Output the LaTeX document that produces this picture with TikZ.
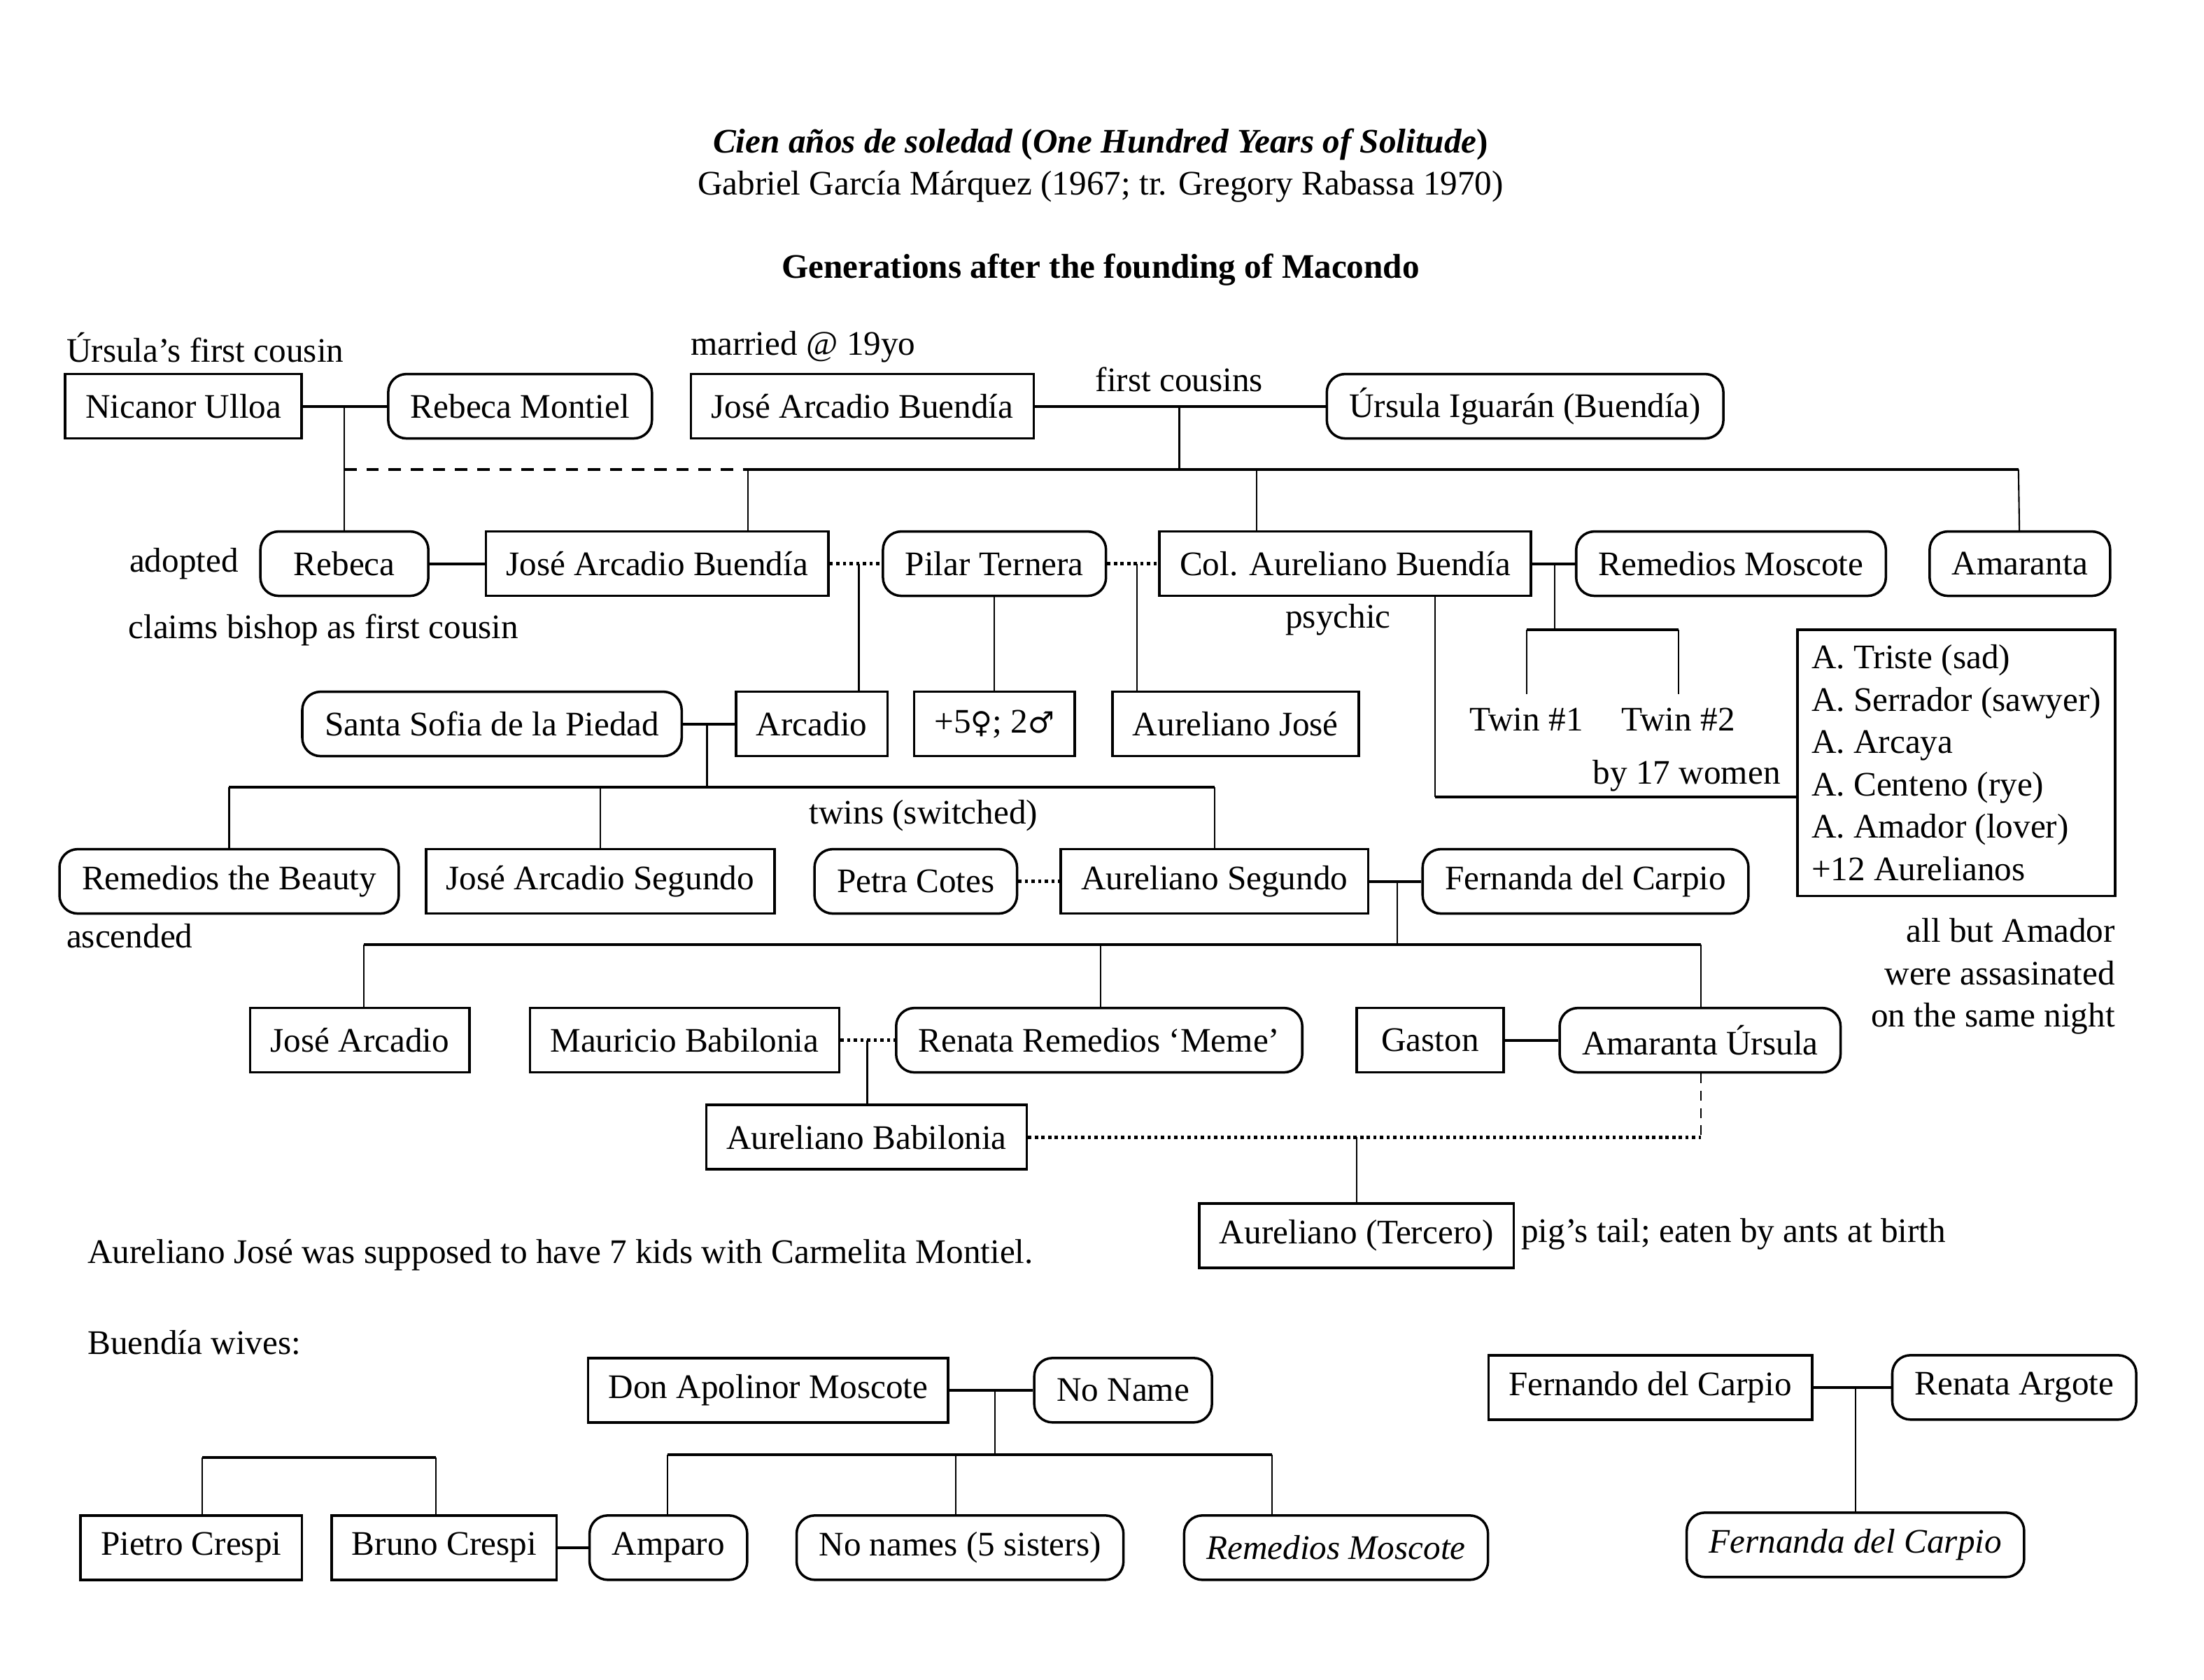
\documentclass[tikz,border=0pt]{standalone}
\usepackage{fontspec}
\setmainfont{Liberation Serif}
\newfontfamily\symf{DejaVu Sans}
\usetikzlibrary{calc}
\tikzset{
    person/.style = {rectangle,
                    draw=black,
                    text=black,
                    line width=1pt,
                    inner xsep=2.9mm,
                    minimum height=9.2mm},
    spouse/.style = {rectangle,
                    rounded corners=2.6mm,
                    draw=black,
                    text=black,
                    line width=1pt,
                    inner xsep=3.2mm,
                    minimum height=9.2mm},
    note/.style =   {inner sep=0pt,
                    text=black},
    -,
    wed/.style =    {line width=1.1pt},
    desc/.style =   {line width=0.6pt},
    affair/.style = {line width=1.3pt,
                    dash pattern=on 1.3pt off 1.4pt},
    adopt/.style =  {line width=1.1pt,
                    dash pattern=on 5pt off 4pt}}

\begin{document}
\begin{tikzpicture}[x=0.2009mm,y=-0.2009mm,font=\fontsize{14}{17}\selectfont]
    \useasboundingbox (0,0) rectangle (1568,1195);

    % title
    \node[note] (title)  at (783,103) {\bfseries\itshape Cien años de soledad \textup{(}One Hundred Years of Solitude\textup{)}};
    \node[note] (author) at (783,133) {Gabriel García Márquez (1967; tr. Gregory Rabassa 1970)};
    \node[note] (head)   at (783,192) {\bfseries Generations after the founding of Macondo};

    % first generation
    \node[person] (nicanor)  at (130.5,289) {Nicanor Ulloa};
    \node[spouse] (rebecaM)  at (370,289)   {Rebeca Montiel};
    \node[person] (jab)      at (613.5,289) {José Arcadio Buendía};
    \node[spouse] (ursula)   at (1085,289)  {Úrsula Iguarán (Buendía)};
    \node[note, anchor=west] (cousinU) at (47,247)  {Úrsula’s first cousin};
    \node[note, anchor=west] (married) at (491,247) {married @ 19yo};
    \node[note] (cousins) at (839,270) {first cousins};

    % second generation
    \node[spouse, minimum width=24mm] (rebeca) at (245,401) {Rebeca};
    \node[person] (jab2)      at (467.5,401)  {José Arcadio Buendía};
    \node[spouse] (pilar)     at (707.5,401)  {Pilar Ternera};
    \node[person] (colAB)     at (957,401)    {Col. Aureliano Buendía};
    \node[spouse] (remediosM) at (1231.5,401) {Remedios Moscote};
    \node[spouse] (amaranta)  at (1437,401)   {Amaranta};
    \node[note, anchor=east] (adopted) at (170,401) {adopted};
    \node[note, anchor=west] (bishop)  at (91,448)  {claims bishop as first cousin};
    \node[note] (psychic) at (952,441) {psychic};

    % third generation
    \node[spouse] (santa)   at (350,515)   {Santa Sofia de la Piedad};
    \node[person] (arcadio) at (577.5,515) {Arcadio};
    \node[person] (plus)    at (707.5,515) {+5{\symf\fontsize{12}{14}\selectfont ♀}; 2{\symf\fontsize{12}{14}\selectfont ♂}};
    \node[person] (aurJose) at (879,515)   {Aureliano José};
    \node[note] (twin1) at (1086,512) {Twin \#1};
    \node[note] (twin2) at (1194,512) {Twin \#2};
    \node[note] (by17)  at (1200,552) {by 17 women};
    \node[person, anchor=north west, align=left, inner xsep=2mm, inner ysep=2.2mm,
          font=\fontsize{14}{17.2}\selectfont] (aurelianos) at (1278,447)
        {A. Triste (sad)\\A. Serrador (sawyer)\\A. Arcaya\\A. Centeno (rye)\\A. Amador (lover)\\+12 Aurelianos};
    \node[note, align=right, anchor=north east, font=\fontsize{14}{17.2}\selectfont] (assassin) at (1505,653)
        {all but Amador\\were assasinated\\on the same night};

    % fourth generation
    \node[spouse] (remBeauty)  at (163,627)  {Remedios the Beauty};
    \node[person] (jaSegundo)  at (427,627)  {José Arcadio Segundo};
    \node[spouse] (petra)      at (651.5,627) {Petra Cotes};
    \node[person] (aurSegundo) at (864,627)  {Aureliano Segundo};
    \node[spouse] (fernanda)   at (1128,627) {Fernanda del Carpio};
    \node[note, anchor=west] (ascended) at (47,666) {ascended};
    \node[note] (switched) at (657,580) {twins (switched)};

    % fifth generation
    \node[person] (joseArcadio)  at (256,740)    {José Arcadio};
    \node[person] (mauricio)     at (487,740)    {Mauricio Babilonia};
    \node[spouse] (meme)         at (782,740)    {Renata Remedios ‘Meme’};
    \node[person, minimum width=21mm] (gaston) at (1017.5,740) {Gaston};
    \node[spouse] (amarantaU)    at (1209.5,740) {Amaranta Úrsula};
    \node[person] (aurBabilonia) at (616.5,809)  {Aureliano Babilonia};
    \node[person] (aurTercero)   at (965,879)    {Aureliano (Tercero)};
    \node[note, anchor=west] (pigtail) at (1082,878) {pig’s tail; eaten by ants at birth};

    % notes
    \node[note, anchor=west] (carmelita) at (62,893) {Aureliano José was supposed to have 7 kids with Carmelita Montiel.};
    \node[note, anchor=west] (wives)     at (62,955) {Buendía wives:};

    % wives' families
    \node[person] (apolinor)  at (546.5,989) {Don Apolinor Moscote};
    \node[spouse] (noName)    at (799,989)   {No Name};
    \node[person] (fernando)  at (1174,987)  {Fernando del Carpio};
    \node[spouse] (renataA)   at (1433,987)  {Renata Argote};
    \node[person] (pietro)    at (136,1101)  {Pietro Crespi};
    \node[person] (bruno)     at (316,1101)  {Bruno Crespi};
    \node[spouse] (amparo)    at (475.5,1101) {Amparo};
    \node[spouse] (noNames)   at (683,1101)  {No names (5 sisters)};
    \node[spouse] (remediosI) at (950.5,1101) {\itshape Remedios Moscote};
    \node[spouse] (fernandaI) at (1320,1099) {\itshape Fernanda del Carpio};

    % junctions
    \coordinate (nr)   at (245,289);
    \coordinate (ad)   at (245,334);
    \coordinate (ju)   at (839,289);
    \coordinate (ju2)  at (839,334);
    \coordinate (b1l)  at (532,334);
    \coordinate (b1m)  at (894,334);
    \coordinate (b1r)  at (1436,334);
    \coordinate (jp)   at (611,401);
    \coordinate (pc)   at (809,401);
    \coordinate (cr)   at (1106,401);
    \coordinate (tw)   at (1106,448);
    \coordinate (c17)  at (1021,567);
    \coordinate (sa)   at (503,515);
    \coordinate (sa2)  at (503,560);
    \coordinate (b2l)  at (163,560);
    \coordinate (b2m)  at (427,560);
    \coordinate (b2r)  at (864,560);
    \coordinate (af)   at (994,627);
    \coordinate (af2)  at (994,672);
    \coordinate (b3l)  at (259,672);
    \coordinate (b3m)  at (783,672);
    \coordinate (b3r)  at (1210,672);
    \coordinate (mm)   at (617,740);
    \coordinate (ab)   at (1210,809);
    \coordinate (at)   at (965,809);
    \coordinate (an)   at (708,989);
    \coordinate (an2)  at (708,1035);
    \coordinate (b4l)  at (475,1035);
    \coordinate (b4m)  at (680,1035);
    \coordinate (b4r)  at (905,1035);
    \coordinate (crl)  at (144,1037);
    \coordinate (crr)  at (310,1037);
    \coordinate (fr)   at (1320,987);

    % first generation links
    \draw[wed]   (nicanor) -- (rebecaM);
    \draw[desc]  (nr) -- (rebeca);
    \draw[adopt] (ad) -- (b1l);
    \draw[wed]   (jab) -- (ursula);
    \draw[desc]  (ju) -- (ju2);
    \draw[wed]   (b1l) -- (b1r);
    \draw[desc]  (b1l) -- (b1l |- jab2.north);
    \draw[desc]  (b1m) -- (b1m |- colAB.north);
    \draw[desc]  (b1r) -- (amaranta);

    % second generation links
    \draw[wed]    (rebeca) -- (jab2);
    \draw[affair] (jab2) -- (pilar);
    \draw[affair] (pilar) -- (colAB);
    \draw[wed]    (colAB) -- (remediosM);
    \draw[desc]   (jp) -- (jp |- arcadio.north);
    \draw[desc]   (pilar) -- (plus);
    \draw[desc]   (pc) -- (pc |- aurJose.north);
    \draw[desc]   (cr) -- (tw);
    \draw[wed]    (twin1 |- tw) -- (twin2 |- tw);
    \draw[desc]   (twin1 |- tw) -- ++(0,46);
    \draw[desc]   (twin2 |- tw) -- ++(0,46);
    \draw[desc]   (colAB.south -| c17) -- (c17);
    \draw[wed]    (c17) -- (c17 -| aurelianos.west);

    % third generation links
    \draw[wed]  (santa) -- (arcadio);
    \draw[desc] (sa) -- (sa2);
    \draw[wed]  (b2l) -- (b2r);
    \draw[desc] (b2l) -- (remBeauty);
    \draw[desc] (b2m) -- (jaSegundo);
    \draw[desc] (b2r) -- (aurSegundo);

    % fourth generation links
    \draw[affair] (petra) -- (aurSegundo);
    \draw[wed]    (aurSegundo) -- (fernanda);
    \draw[desc]   (af) -- (af2);
    \draw[wed]    (b3l) -- (b3r);
    \draw[desc]   (b3l) -- (b3l |- joseArcadio.north);
    \draw[desc]   (b3m) -- (b3m |- meme.north);
    \draw[desc]   (b3r) -- (b3r |- amarantaU.north);

    % fifth generation links
    \draw[affair] (mauricio) -- (meme);
    \draw[desc]   (mm) -- (mm |- aurBabilonia.north);
    \draw[wed]    (gaston) -- (amarantaU);
    \draw[desc, dash pattern=on 4pt off 3pt] (amarantaU.south -| ab) -- (ab);
    \draw[affair] (aurBabilonia) -- (ab);
    \draw[desc]   (at) -- (aurTercero);

    % wives' families links
    \draw[wed]  (apolinor) -- (noName);
    \draw[desc] (an) -- (an2);
    \draw[wed]  (b4l) -- (b4r);
    \draw[desc] (b4l) -- (b4l |- amparo.north);
    \draw[desc] (b4m) -- (b4m |- noNames.north);
    \draw[desc] (b4r) -- (b4r |- remediosI.north);
    \draw[wed]  (crl) -- (crr);
    \draw[desc] (crl) -- (crl |- pietro.north);
    \draw[desc] (crr) -- (crr |- bruno.north);
    \draw[wed]  (bruno) -- (amparo);
    \draw[wed]  (fernando) -- (renataA);
    \draw[desc] (fr) -- (fernandaI);
\end{tikzpicture}
\end{document}
